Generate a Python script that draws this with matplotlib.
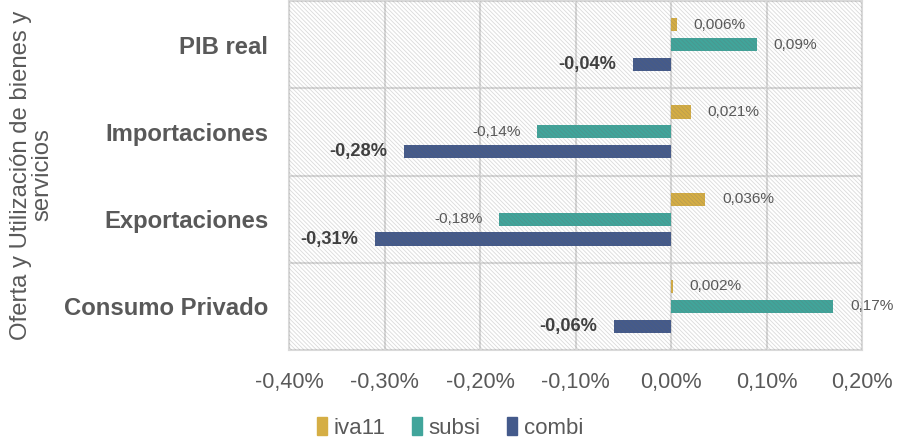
import matplotlib
matplotlib.use("Agg")
import matplotlib.pyplot as plt
from matplotlib import font_manager
from matplotlib.patches import Rectangle, Patch
import numpy as np

# data (values in %)
categories = ["PIB real", "Importaciones", "Exportaciones", "Consumo Privado"]
series = ["iva11", "subsi", "combi"]
iva11 = [0.006, 0.021, 0.036, 0.002]
subsi = [0.09, -0.14, -0.18, 0.17]
combi = [-0.04, -0.28, -0.31, -0.06]
label_decimals = [3, 2, 2]
xticks = [-0.40, -0.30, -0.20, -0.10, 0.00, 0.10, 0.20]
ylabel = "Oferta y Utilización de bienes y\nservicios"

colors = ["#D5AE45", "#41A59B", "#445A8B"]
grey = "#595959"

# the reference text looks horizontally squeezed -> use a narrow face if there is one
installed = {f.name for f in font_manager.fontManager.ttflist}
if "Liberation Sans Narrow" in installed:
    fam = ["Liberation Sans Narrow", "DejaVu Sans"]
    k = 1.0
else:
    fam = ["Liberation Sans", "DejaVu Sans"]
    k = 0.82
plt.rcParams["font.family"] = fam
plt.rcParams["hatch.linewidth"] = 0.6

fig = plt.figure(figsize=(8.99, 4.44), dpi=100)
ax = fig.add_axes([289 / 899, 1 - 350 / 444, (862 - 289) / 899, 349 / 444])

ypos = np.arange(len(categories))[::-1]
offsets = [0.228, 0.0, -0.228]
h = 0.15
all_vals = [iva11, subsi, combi]

for i, vals in enumerate(all_vals):
    ax.barh(ypos + offsets[i], vals, height=h, color=colors[i], zorder=2, label=series[i])
    for y, v in zip(ypos + offsets[i], vals):
        txt = f"{v:.{label_decimals[i]}f}%".replace(".", ",")
        bold = i == 2
        ax.annotate(txt, (v, y), xytext=(12 if v >= 0 else -12, 0), textcoords="offset points",
                    ha="left" if v >= 0 else "right", va="center",
                    fontsize=(16 if bold else 13.5) * k,
                    fontweight="bold" if bold else "normal",
                    color="#404040" if bold else grey, zorder=4)

# hatched background overlay
ax.add_patch(Rectangle((0, 0), 1, 1, transform=ax.transAxes, facecolor="none",
                       edgecolor=(0.4, 0.4, 0.4, 0.24), hatch="\\" * 8, lw=0, zorder=3))

ax.set_xlim(-0.40, 0.20)
ax.set_ylim(-0.5, 3.5)
ax.set_xticks(xticks)
ax.set_xticklabels([f"{t:.2f}%".replace(".", ",") for t in xticks])
ax.set_yticks(ypos)
ax.set_yticklabels(categories, fontweight="bold")
ax.tick_params(axis="x", length=0, pad=16, labelsize=19 * k, labelcolor=grey)
ax.tick_params(axis="y", length=0, pad=15, labelsize=21 * k, labelcolor=grey)

ax.grid(axis="x", color="#D9D9D9", lw=1.5, zorder=1)
for yb in [0.5, 1.5, 2.5]:
    ax.axhline(yb, color="#D9D9D9", lw=1.5, zorder=1)
for s in ax.spines.values():
    s.set_color("#D9D9D9")
    s.set_linewidth(1.5)

fig.text(32 / 899, 1 - 175 / 444, ylabel, rotation=90, ha="center", va="center",
         multialignment="center", fontsize=21 * k, color=grey, linespacing=0.95)

handles = [Patch(color=c) for c in colors]
fig.legend(handles, series, loc="center", bbox_to_anchor=(450 / 899, 1 - 428 / 444),
           ncol=3, frameon=False, fontsize=19.5 * k, labelcolor=grey,
           handlelength=0.45, handleheight=0.9, handletextpad=0.3, columnspacing=1.2)

fig.savefig("out.png", dpi=100)
